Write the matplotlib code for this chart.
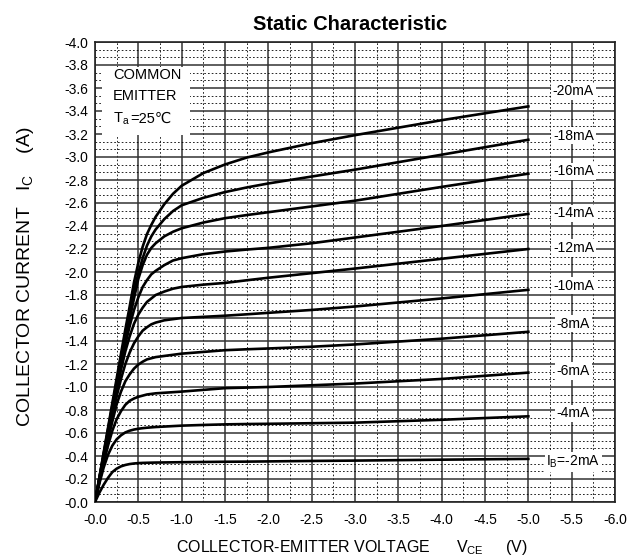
import numpy as np
import matplotlib.pyplot as plt
from matplotlib.ticker import MultipleLocator, FuncFormatter
from matplotlib.patches import Rectangle
from matplotlib.offsetbox import TextArea, HPacker, AnchoredOffsetbox

plt.rcParams['font.family'] = ['Liberation Sans', 'DejaVu Sans', 'Noto Sans CJK SC']

# collector-emitter voltage |Vce| (V)
vce = [0, 0.05, 0.1, 0.15, 0.2, 0.25, 0.3, 0.35, 0.4, 0.45, 0.5, 0.55, 0.6, 0.65, 0.7,
       0.8, 0.9, 1.0, 1.25, 1.5, 1.75, 2.0, 2.5, 3.0, 4.0, 5.0]

# collector current |Ic| (A) for each base current
ic_2ma = [0, 0.08, 0.15, 0.21, 0.26, 0.29, 0.31, 0.322, 0.33, 0.335, 0.338, 0.34, 0.341, 0.342, 0.343,
          0.344, 0.345, 0.346, 0.348, 0.35, 0.351, 0.353, 0.357, 0.36, 0.368, 0.375]
ic_4ma = [0, 0.16, 0.30, 0.41, 0.49, 0.545, 0.58, 0.605, 0.62, 0.63, 0.637, 0.642, 0.646, 0.649, 0.652,
          0.656, 0.66, 0.664, 0.67, 0.675, 0.678, 0.68, 0.685, 0.69, 0.715, 0.745]
ic_6ma = [0, 0.17, 0.34, 0.49, 0.62, 0.72, 0.79, 0.845, 0.88, 0.90, 0.915, 0.925, 0.935, 0.94, 0.945,
          0.95, 0.955, 0.96, 0.975, 0.99, 0.995, 1.0, 1.015, 1.03, 1.07, 1.125]
ic_8ma = [0, 0.18, 0.36, 0.54, 0.70, 0.85, 0.96, 1.05, 1.11, 1.16, 1.195, 1.22, 1.24, 1.25, 1.26,
          1.27, 1.28, 1.29, 1.305, 1.32, 1.328, 1.335, 1.35, 1.37, 1.42, 1.48]
ic_10ma = [0, 0.19, 0.38, 0.565, 0.75, 0.92, 1.07, 1.20, 1.30, 1.38, 1.44, 1.49, 1.52, 1.545, 1.56,
           1.58, 1.59, 1.60, 1.61, 1.62, 1.632, 1.645, 1.67, 1.70, 1.77, 1.845]
ic_12ma = [0, 0.195, 0.39, 0.585, 0.78, 0.97, 1.15, 1.31, 1.44, 1.55, 1.63, 1.69, 1.74, 1.77, 1.80,
           1.83, 1.855, 1.87, 1.89, 1.905, 1.928, 1.95, 1.99, 2.03, 2.115, 2.2]
ic_14ma = [0, 0.2, 0.40, 0.60, 0.80, 0.995, 1.185, 1.37, 1.53, 1.67, 1.78, 1.87, 1.93, 1.98, 2.01,
           2.06, 2.10, 2.12, 2.155, 2.178, 2.195, 2.21, 2.25, 2.30, 2.40, 2.505]
ic_16ma = [0, 0.205, 0.41, 0.615, 0.82, 1.02, 1.22, 1.41, 1.59, 1.77, 1.94, 2.06, 2.15, 2.21, 2.25,
           2.31, 2.35, 2.38, 2.43, 2.468, 2.495, 2.52, 2.57, 2.62, 2.74, 2.855]
ic_18ma = [0, 0.21, 0.42, 0.63, 0.84, 1.045, 1.25, 1.45, 1.64, 1.83, 1.99, 2.12, 2.23, 2.31, 2.37,
           2.46, 2.53, 2.58, 2.645, 2.695, 2.735, 2.77, 2.83, 2.89, 3.02, 3.15]
ic_20ma = [0, 0.21, 0.43, 0.645, 0.86, 1.075, 1.29, 1.50, 1.70, 1.91, 2.08, 2.22, 2.33, 2.41, 2.48,
           2.59, 2.68, 2.75, 2.86, 2.935, 2.995, 3.04, 3.12, 3.19, 3.32, 3.44]

curves = [ic_2ma, ic_4ma, ic_6ma, ic_8ma, ic_10ma, ic_12ma, ic_14ma, ic_16ma, ic_18ma, ic_20ma]
curve_labels = [r'I$_\mathregular{B}$=-2mA', '-4mA', '-6mA', '-8mA', '-10mA',
                '-12mA', '-14mA', '-16mA', '-18mA', '-20mA']
# where the labels sit (|Ic|)
label_y = [0.35, 0.77, 1.14, 1.55, 1.88, 2.21, 2.51, 2.875, 3.185, 3.57]

fig = plt.figure(figsize=(6.31, 5.59), dpi=100)
ax = fig.add_axes([95 / 631, 57 / 559, 520 / 631, 460 / 559])

v = -np.array(vce)
for ic in curves:
    ax.plot(v, -np.array(ic), color='black', lw=1.9, zorder=3)

ax.set_xlim(0, -6)
ax.set_ylim(0, -4)
ax.xaxis.set_major_locator(MultipleLocator(0.5))
ax.xaxis.set_minor_locator(MultipleLocator(0.25))
ax.yaxis.set_major_locator(MultipleLocator(0.2))
ax.yaxis.set_minor_locator(MultipleLocator(0.2 / 3))
fmt = FuncFormatter(lambda val, pos: '-%.1f' % abs(val))
ax.xaxis.set_major_formatter(fmt)
ax.yaxis.set_major_formatter(fmt)
ax.grid(which='major', color='#333333', lw=1.1, ls='-')
ax.grid(which='minor', color='black', lw=0.6, ls=(0, (2, 2.5)))
ax.tick_params(which='both', length=0)
ax.tick_params(axis='x', pad=8, labelsize=10)
ax.tick_params(axis='y', pad=5, labelsize=10)
for s in ax.spines.values():
    s.set_color('#222222')
    s.set_linewidth(1.2)

for lab, y in zip(curve_labels, label_y):
    ax.text(-5.52, -y, lab, ha='center', va='center', fontsize=10, zorder=4,
            bbox=dict(facecolor='white', edgecolor='none', pad=1.2))

# COMMON EMITTER box
ax.add_patch(Rectangle((-0.08, -3.19), -1.02, -0.59, facecolor='white', edgecolor='none', zorder=2))
ax.text(-0.21, -3.716, 'COMMON', ha='left', va='center', fontsize=10.5, zorder=4)
ax.text(-0.21, -3.53, 'EMITTER', ha='left', va='center', fontsize=10.5, zorder=4)
ta = HPacker(children=[TextArea(r'T$_\mathregular{a}$', textprops=dict(fontsize=10.5)),
                       TextArea('=25℃', textprops=dict(fontsize=10.5))],
             align='baseline', pad=0, sep=0)
ab = AnchoredOffsetbox(loc='center left', child=ta, pad=0, borderpad=0, frameon=False,
                       bbox_to_anchor=(-0.21, -3.33), bbox_transform=ax.transData)
ab.set_zorder(4)
ax.add_artist(ab)

fig.text(350 / 631, 1 - 25 / 559, 'Static Characteristic', ha='center', va='center',
         fontsize=14.5, fontweight='bold')
fig.text(26 / 631, 1 - 277 / 559, r'COLLECTOR CURRENT   I$_\mathregular{C}$    (A)',
         rotation=90, ha='center', va='center', fontsize=14)
fig.text(352 / 631, 7 / 559, r'COLLECTOR-EMITTER VOLTAGE      V$_\mathregular{CE}$     (V)',
         ha='center', va='baseline', fontsize=11.5)

fig.savefig('out.png', dpi=100)
